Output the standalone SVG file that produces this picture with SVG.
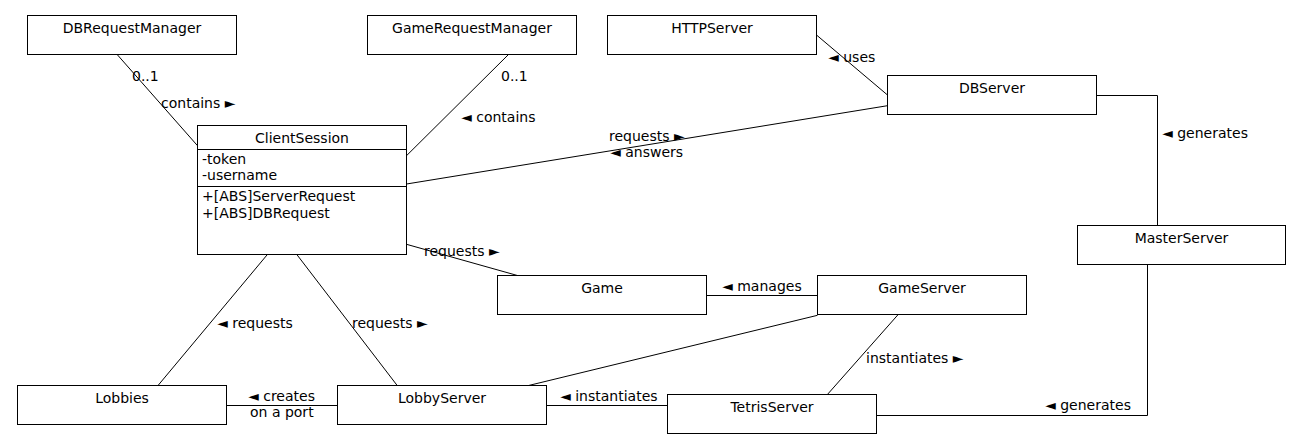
<svg xmlns="http://www.w3.org/2000/svg" width="1293" height="443" viewBox="0 0 1293 443">
<style>
.box{fill:#fff;stroke:#000;stroke-width:1}
.t{font-family:"DejaVu Sans",sans-serif;font-size:14px;fill:#000}
.c{text-anchor:middle}
.ln{fill:none;stroke:#000;stroke-width:1}
</style>
<rect width="1293" height="443" fill="#fff"/>
<g id="connectors">
<line class="ln" x1="116.7" y1="54" x2="197.5" y2="145.7"/>
<line class="ln" x1="509" y1="54" x2="406.5" y2="155.7"/>
<line class="ln" x1="816.5" y1="35" x2="887.5" y2="95"/>
<line class="ln" x1="887.5" y1="105.7" x2="406.5" y2="184"/>
<polyline class="ln" points="1096.5,95.5 1157.5,95.5 1157.5,225.5"/>
<line class="ln" x1="406.5" y1="244.3" x2="517.4" y2="275.5"/>
<line class="ln" x1="267.4" y1="254.5" x2="158" y2="385.5"/>
<line class="ln" x1="296.8" y1="254.5" x2="397.2" y2="385.5"/>
<line class="ln" x1="706.5" y1="295.5" x2="817.5" y2="295.5"/>
<line class="ln" x1="817.5" y1="315.3" x2="528.6" y2="385.5"/>
<line class="ln" x1="898.2" y1="314.5" x2="827.4" y2="394.5"/>
<line class="ln" x1="226.5" y1="405.5" x2="337.5" y2="405.5"/>
<line class="ln" x1="546.5" y1="405.5" x2="667.5" y2="405.5"/>
<polyline class="ln" points="876.5,415.5 1147.5,415.5 1147.5,264.5"/>
<text class="t" x="132" y="81">0..1</text>
<text class="t" x="161" y="108">contains ►</text>
<text class="t" x="501" y="81">0..1</text>
<text class="t" x="461" y="122">◄ contains</text>
<text class="t" x="828" y="62">◄ uses</text>
<text class="t" x="609" y="141">requests ►</text>
<text class="t" x="610" y="157">◄ answers</text>
<text class="t" x="1162" y="138">◄ generates</text>
<text class="t" x="424" y="256">requests ►</text>
<text class="t" x="217" y="328">◄ requests</text>
<text class="t" x="352" y="328">requests ►</text>
<text class="t" x="248" y="401">◄ creates</text>
<text class="t" x="250" y="417">on a port</text>
<text class="t" x="560" y="401">◄ instantiates</text>
<text class="t" x="722" y="291">◄ manages</text>
<text class="t" x="866" y="363">instantiates ►</text>
<text class="t" x="1045" y="410">◄ generates</text>
</g>
<g id="DBRequestManager"><rect class="box" x="27.5" y="15.5" width="209" height="39"/><text class="t c" x="132" y="33">DBRequestManager</text></g>
<g id="GameRequestManager"><rect class="box" x="367.5" y="15.5" width="209" height="39"/><text class="t c" x="472" y="33">GameRequestManager</text></g>
<g id="HTTPServer"><rect class="box" x="607.5" y="15.5" width="209" height="39"/><text class="t c" x="712" y="33">HTTPServer</text></g>
<g id="DBServer"><rect class="box" x="887.5" y="75.5" width="209" height="39"/><text class="t c" x="992" y="93">DBServer</text></g>
<g id="MasterServer"><rect class="box" x="1077.5" y="225.5" width="208" height="39"/><text class="t c" x="1181.5" y="243">MasterServer</text></g>
<g id="ClientSession"><rect class="box" x="197.5" y="125.5" width="209" height="129"/>
<line class="ln" x1="197.5" y1="149.5" x2="406.5" y2="149.5"/><line class="ln" x1="197.5" y1="186.5" x2="406.5" y2="186.5"/>
<text class="t c" x="302" y="143">ClientSession</text>
<text class="t" x="202" y="164">-token</text><text class="t" x="202" y="180">-username</text>
<text class="t" x="202" y="201">+[ABS]ServerRequest</text><text class="t" x="202" y="218">+[ABS]DBRequest</text></g>
<g id="Game"><rect class="box" x="497.5" y="275.5" width="209" height="39"/><text class="t c" x="602" y="293">Game</text></g>
<g id="GameServer"><rect class="box" x="817.5" y="275.5" width="209" height="39"/><text class="t c" x="922" y="293">GameServer</text></g>
<g id="Lobbies"><rect class="box" x="17.5" y="385.5" width="209" height="39"/><text class="t c" x="122" y="403">Lobbies</text></g>
<g id="LobbyServer"><rect class="box" x="337.5" y="385.5" width="209" height="39"/><text class="t c" x="442" y="403">LobbyServer</text></g>
<g id="TetrisServer"><rect class="box" x="667.5" y="394.5" width="209" height="39"/><text class="t c" x="772" y="412">TetrisServer</text></g>
</svg>
